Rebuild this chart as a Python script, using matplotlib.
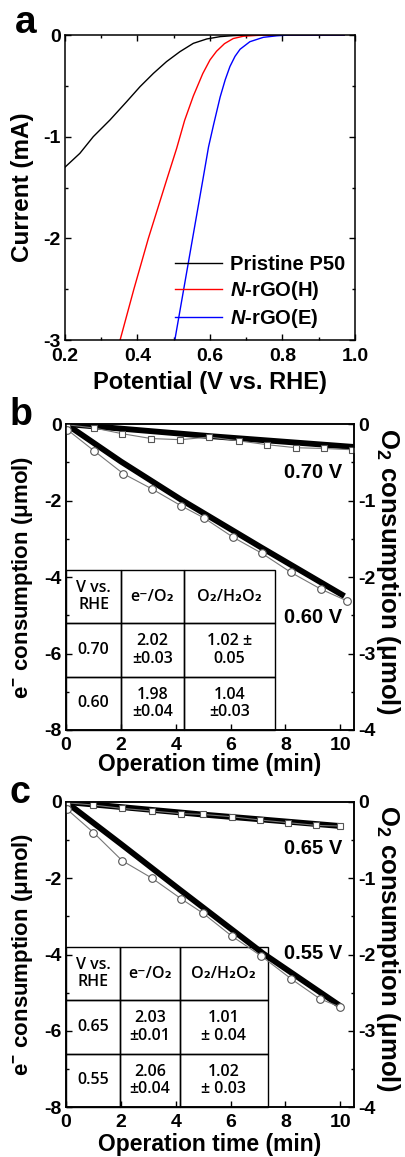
# LSV curves (a) and e-/O2 consumption during operation (b, c)

import matplotlib
matplotlib.use("Agg")
import matplotlib.pyplot as plt
from matplotlib.ticker import MultipleLocator, FormatStrFormatter

plt.rcParams["font.family"] = ["Liberation Sans", "DejaVu Sans"]
plt.rcParams["font.weight"] = "bold"
plt.rcParams["axes.labelweight"] = "bold"
plt.rcParams["axes.unicode_minus"] = False
plt.rcParams["mathtext.fontset"] = "custom"
plt.rcParams["mathtext.rm"] = "Liberation Sans:bold"
plt.rcParams["mathtext.bf"] = "Liberation Sans:bold"
plt.rcParams["mathtext.it"] = "Liberation Sans:italic:bold"

TABLE_FONT = ["Open Sans", "DejaVu Sans"]

# ---- panel a: linear sweep voltammetry ----
v_p50 = [0.2, 0.241, 0.278, 0.324, 0.37, 0.407, 0.444, 0.48, 0.517, 0.554, 0.591,
         0.628, 0.665, 0.7, 0.75, 0.97]
i_p50 = [-1.30, -1.164, -1.0, -0.836, -0.656, -0.508, -0.377, -0.262, -0.164, -0.082,
         -0.039, -0.016, -0.006, -0.002, 0, 0]

v_h = [0.352, 0.39, 0.43, 0.48, 0.508, 0.53, 0.554, 0.58, 0.60, 0.618, 0.64, 0.664,
       0.692, 0.73, 0.78, 0.97]
i_h = [-3.0, -2.5, -2.0, -1.43, -1.115, -0.84, -0.6, -0.38, -0.245, -0.16, -0.085,
       -0.035, -0.012, -0.004, 0, 0]

v_e = [0.503, 0.552, 0.58, 0.596, 0.61, 0.628, 0.642, 0.655, 0.669, 0.683, 0.71,
       0.747, 0.784, 0.82, 0.97]
i_e = [-3.0, -2.0, -1.43, -1.1, -0.88, -0.61, -0.44, -0.31, -0.21, -0.14, -0.066,
       -0.023, -0.008, 0, 0]

# ---- panel b: 0.70 V and 0.60 V ----
t_b_e070 = [0, 5.3, 10.5]
e_b_070 = [0, -0.32, -0.6]
t_b_e060 = [0, 2.0, 4.2, 7.1, 10.15]
e_b_060 = [0, -0.98, -1.98, -3.22, -4.5]

t_b_o070 = [0.05, 1.02, 2.05, 3.1, 4.17, 5.23, 6.29, 7.32, 8.38, 9.41, 10.41]
o_b_070 = [-0.01, -0.052, -0.127, -0.19, -0.205, -0.17, -0.22, -0.27, -0.31, -0.32, -0.336]
t_b_o060 = [0.05, 1.02, 2.09, 3.14, 4.2, 5.04, 6.09, 7.14, 8.2, 9.3, 10.23]
o_b_060 = [-0.075, -0.35, -0.65, -0.85, -1.07, -1.23, -1.48, -1.69, -1.94, -2.16, -2.31]

# ---- panel c: 0.65 V and 0.55 V ----
t_c_e065 = [0, 5.0, 10.0]
e_c_065 = [0, -0.33, -0.63]
t_c_e055 = [0, 2.0, 4.15, 7.2, 10.0]
e_c_055 = [0, -1.1, -2.3, -3.98, -5.35]

t_c_o065 = [0.04, 1.0, 2.05, 3.14, 4.2, 4.99, 6.04, 7.07, 8.1, 9.13, 10.0]
o_c_065 = [-0.01, -0.04, -0.084, -0.118, -0.153, -0.163, -0.193, -0.236, -0.271, -0.307, -0.315]
t_c_o055 = [0.04, 1.0, 2.05, 3.14, 4.2, 5.0, 6.05, 7.12, 8.21, 9.25, 10.0]
o_c_055 = [-0.097, -0.40, -0.77, -1.0, -1.27, -1.46, -1.76, -2.02, -2.32, -2.58, -2.69]

# ---- tables ----
table_header = ["V vs.\nRHE", "e\u207b/O\u2082", "O\u2082/H\u2082O\u2082"]
table_b = [["0.70", "2.02\n\u00b10.03", "1.02 \u00b1\n0.05"],
           ["0.60", "1.98\n\u00b10.04", "1.04\n\u00b10.03"]]
table_c = [["0.65", "2.03\n\u00b10.01", "1.01\n\u00b1 0.04"],
           ["0.55", "2.06\n\u00b10.04", "1.02\n\u00b1 0.03"]]

W, H = 406, 1157
fig = plt.figure(figsize=(W / 100, H / 100), dpi=100)


def px_axes(left, top, right, bottom):
    return fig.add_axes([left / W, 1 - bottom / H, (right - left) / W, (bottom - top) / H])


def style(ax, **kw):
    ax.tick_params(which="both", direction="in", width=1.0, labelsize=14, **kw)
    ax.tick_params(which="major", length=4.5)
    ax.tick_params(which="minor", length=2.5)
    for s in ax.spines.values():
        s.set_linewidth(1.1)


# panel a
ax = px_axes(65, 35, 355, 340)
ax.plot(v_p50, i_p50, color="black", lw=1.0, label="Pristine P50")
ax.plot(v_h, i_h, color="red", lw=1.0, label="$N$-rGO(H)")
ax.plot(v_e, i_e, color="blue", lw=1.0, label="$N$-rGO(E)")
ax.set_xlim(0.2, 1.0)
ax.set_ylim(-3, 0)
ax.xaxis.set_major_locator(MultipleLocator(0.2))
ax.xaxis.set_minor_locator(MultipleLocator(0.1))
ax.yaxis.set_major_locator(MultipleLocator(1))
ax.yaxis.set_minor_locator(MultipleLocator(0.5))
ax.xaxis.set_major_formatter(FormatStrFormatter("%.1f"))
style(ax, top=True, right=True)
ax.tick_params(axis="x", pad=6)
ax.tick_params(axis="y", pad=3)
ax.set_xlabel("Potential (V vs. RHE)", fontsize=17)
ax.set_ylabel("Current (mA)", fontsize=17.5)
ax.xaxis.set_label_coords(0.5, -0.1)
ax.yaxis.set_label_coords(-0.107, 0.5)
ax.legend(loc="lower right", frameon=False, fontsize=14.5, handlelength=2.3,
          handletextpad=0.4, labelspacing=0.25, borderaxespad=0.1)
fig.text(15 / W, 1 - 33 / H, "a", fontsize=28, fontweight="bold")


def panel(top, bottom, letter, t_up, e_up, t_lo, e_lo, ts_up, o_up, ts_lo, o_lo,
          rows, tab_box, col_w, lab_up, lab_lo, lab_y, xlab_y):
    ax = px_axes(66, top, 354, bottom)
    ax.plot(t_up, e_up, color="black", lw=4.2, solid_capstyle="butt", zorder=3)
    ax.plot(t_lo, e_lo, color="black", lw=4.2, solid_capstyle="butt", zorder=3)
    ax.set_xlim(0, 10.5)
    ax.set_ylim(-8, 0)
    ax.xaxis.set_major_locator(MultipleLocator(2))
    ax.yaxis.set_major_locator(MultipleLocator(2))
    ax.yaxis.set_minor_locator(MultipleLocator(1))
    style(ax, right=False, top=False)
    ax.tick_params(axis="x", pad=5)
    ax.tick_params(axis="y", pad=3)
    ax.set_xlabel("Operation time (min)", fontsize=16.5)
    ax.set_ylabel("e$^{-}$ consumption (\u03bcmol)", fontsize=16)
    ax.xaxis.set_label_coords(0.5, xlab_y)
    ax.yaxis.set_label_coords(-0.108, 0.5)

    tab = ax.table(cellText=rows, colLabels=table_header, cellLoc="center",
                   colWidths=col_w, bbox=tab_box)
    tab.auto_set_font_size(False)
    tab.set_fontsize(11.5)
    tab.set_zorder(1)
    for cell in tab.get_celld().values():
        cell.set_edgecolor("black")
        cell.set_linewidth(1.0)
        cell.set_facecolor("none")
        cell.get_text().set_fontfamily(TABLE_FONT)
        cell.get_text().set_fontweight("semibold")
        cell.get_text().set_linespacing(1.1)

    ax.text(0.958, lab_y[0], lab_up, transform=ax.transAxes, ha="right", va="center",
            fontsize=14.5)
    ax.text(0.958, lab_y[1], lab_lo, transform=ax.transAxes, ha="right", va="center",
            fontsize=14.5)

    ax2 = ax.twinx()
    ax2.plot(ts_up, o_up, color="#777777", lw=0.8, marker="s", ms=4.5,
             mfc="white", mec="#555555", mew=0.8)
    ax2.plot(ts_lo, o_lo, color="#777777", lw=0.8, marker="o", ms=5.5,
             mfc="white", mec="#555555", mew=0.8)
    ax2.set_ylim(-4, 0)
    ax2.yaxis.set_major_locator(MultipleLocator(1))
    ax2.yaxis.set_minor_locator(MultipleLocator(0.5))
    style(ax2)
    ax2.tick_params(axis="y", pad=3)
    ax2.set_ylabel("O$_2$ consumption (\u03bcmol)", fontsize=18.5, rotation=270, va="bottom")
    ax2.yaxis.set_label_coords(1.07, 0.52)
    fig.text(10 / W, 1 - (top + 1) / H, letter, fontsize=27, fontweight="bold")


panel(424, 730, "b", t_b_e070, e_b_070, t_b_e060, e_b_060,
      t_b_o070, o_b_070, t_b_o060, o_b_060,
      table_b, [0, 0, 0.726, 0.523], [55, 63, 91], "0.70 V", "0.60 V",
      (0.84, 0.367), -0.075)
panel(802, 1107, "c", t_c_e065, e_c_065, t_c_e055, e_c_055,
      t_c_o065, o_c_065, t_c_o055, o_c_055,
      table_c, [0, 0, 0.70, 0.525], [54, 60, 88], "0.65 V", "0.55 V",
      (0.848, 0.504), -0.085)

fig.savefig("out.png", dpi=100)
